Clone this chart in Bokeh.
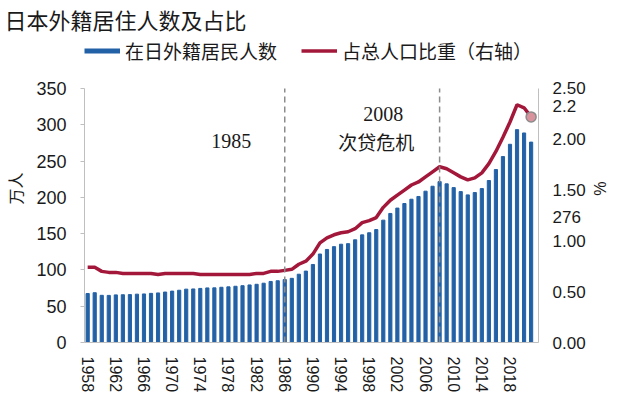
from bokeh.plotting import figure
from bokeh.models import (Range1d, LinearAxis, FixedTicker, NumeralTickFormatter,
                          Label, Legend, LegendItem)
from bokeh.embed import file_html
from bokeh.resources import INLINE

# ---------------- data ----------------
years = [1958, 1959, 1960, 1961, 1962, 1963, 1964, 1965, 1966, 1967,
         1968, 1969, 1970, 1971, 1972, 1973, 1974, 1975, 1976, 1977,
         1978, 1979, 1980, 1981, 1982, 1983, 1984, 1985, 1986, 1987,
         1988, 1989, 1990, 1991, 1992, 1993, 1994, 1995, 1996, 1997,
         1998, 1999, 2000, 2001, 2002, 2003, 2004, 2005, 2006, 2007,
         2008, 2009, 2010, 2011, 2012, 2013, 2014, 2015, 2016, 2017,
         2018, 2019, 2020, 2021]

# foreign residents in Japan (10k persons)
residents = [67.5, 68.6, 65.0, 64.9, 65.6, 65.8, 66.0, 66.6, 66.9, 67.7,
             68.3, 69.5, 70.8, 72.0, 73.5, 73.8, 74.5, 75.2, 75.3, 76.1,
             76.7, 77.5, 78.3, 79.3, 80.2, 81.7, 84.1, 85.1, 86.7, 88.4,
             94.1, 98.4, 107.5, 121.9, 128.2, 132.1, 135.4, 136.2, 141.5, 148.3,
             151.2, 155.6, 168.6, 177.8, 185.2, 191.5, 197.4, 201.2, 208.5, 215.3,
             221.7, 218.6, 213.4, 207.9, 203.4, 206.6, 212.1, 223.2, 238.3, 256.2,
             273.1, 293.3, 288.7, 276.1]

# share of total population (%)
share = [0.74, 0.74, 0.70, 0.69, 0.69, 0.68, 0.68, 0.68, 0.68, 0.68,
         0.67, 0.68, 0.68, 0.68, 0.68, 0.68, 0.67, 0.67, 0.67, 0.67,
         0.67, 0.67, 0.67, 0.67, 0.68, 0.68, 0.70, 0.70, 0.71, 0.72,
         0.77, 0.80, 0.87, 0.98, 1.03, 1.06, 1.08, 1.09, 1.12, 1.18,
         1.20, 1.23, 1.33, 1.40, 1.45, 1.50, 1.55, 1.58, 1.63, 1.68,
         1.73, 1.71, 1.67, 1.63, 1.60, 1.62, 1.67, 1.76, 1.88, 2.02,
         2.17, 2.34, 2.31, 2.22]

x_tick_years = [1958, 1962, 1966, 1970, 1974, 1978, 1982, 1986, 1990,
                1994, 1998, 2002, 2006, 2010, 2014, 2018]
left_ticks = [0, 50, 100, 150, 200, 250, 300, 350]
right_ticks = [0.0, 0.5, 1.0, 1.5, 2.0, 2.5]
event_years = [1986, 2008]

title_text = "日本外籍居住人数及占比"
bar_name = "在日外籍居民人数"
line_name = "占总人口比重（右轴）"

# ---------------- style ----------------
BLUE = "#2361a6"
RED = "#a3183a"
AXIS_GREY = "#bfbfbf"
TXT = "#1a1a1a"
CJK = "Noto Sans CJK SC"
SANS = "Liberation Sans"
SERIF = "Liberation Serif"

LEFT_MAX = left_ticks[-1]
RIGHT_MAX = right_ticks[-1]
HEADROOM = 1.2125          # extra room above the axes for the legend
left_end = LEFT_MAX * HEADROOM
right_end = RIGHT_MAX * HEADROOM

p = figure(width=610, height=395, output_backend="svg", toolbar_location=None,
           x_range=Range1d(1957.55, 2022.05), y_range=Range1d(0, left_end),
           min_border_left=83, min_border_right=60, min_border_top=31,
           min_border_bottom=52)
p.extra_y_ranges = {"pct": Range1d(0, right_end)}
p.outline_line_color = None
p.xgrid.visible = False
p.ygrid.visible = False
p.background_fill_color = "white"

# title
p.title.text = title_text
p.title.align = "left"
p.title.offset = -80
p.title.standoff = 0
p.title.text_font = CJK
p.title.text_font_size = "22px"
p.title.text_font_style = "normal"
p.title.text_color = TXT

bars = p.vbar(x=years, top=residents, width=0.45, color=BLUE)
line = p.line(years, share, y_range_name="pct", line_width=3.5, color=RED)
p.scatter([years[-1]], [share[-1]], y_range_name="pct", size=10,
          fill_color="#d9939d", line_color="#8c8c8c", line_width=1.5)
p.segment(x0=event_years, x1=event_years, y0=[0] * len(event_years),
          y1=[LEFT_MAX] * len(event_years), line_color="#8c8c8c",
          line_dash="6 4", line_width=1.5)

# legend swatch for the bars: a hidden thick line over the same data
bar_key = p.line(years, residents, line_width=5, color=BLUE, visible=False)

# left axis
ya = p.yaxis[0]
ya.ticker = FixedTicker(ticks=left_ticks)
ya.bounds = (0, LEFT_MAX)
ya.axis_line_color = AXIS_GREY
ya.major_tick_line_color = AXIS_GREY
ya.major_tick_out = 4
ya.major_tick_in = 0
ya.minor_tick_line_color = None
ya.major_label_standoff = 14
ya.major_label_text_font = SANS
ya.major_label_text_font_size = "18px"
ya.major_label_text_color = TXT
ya.axis_label = "万人"
ya.axis_label_text_font = CJK
ya.axis_label_text_font_size = "16px"
ya.axis_label_text_font_style = "normal"
ya.axis_label_text_color = TXT
ya.axis_label_standoff = 6

# right axis; the end values are written beside it
tag_share = round(share[-1] + 0.11, 2)
tag_res = round(residents[-1] / LEFT_MAX * RIGHT_MAX - 0.735, 2)
ra = LinearAxis(y_range_name="pct",
                ticker=FixedTicker(ticks=right_ticks + [tag_share, tag_res]),
                formatter=NumeralTickFormatter(format="0.00"),
                major_label_overrides={tag_share: f"{share[-1]:.1f}",
                                       tag_res: f"{residents[-1]:.0f}"})
ra.bounds = (0, RIGHT_MAX)
ra.axis_line_color = AXIS_GREY
ra.major_tick_line_color = None
ra.minor_tick_line_color = None
ra.major_label_standoff = 8
ra.major_label_text_font = SANS
ra.major_label_text_font_size = "17px"
ra.major_label_text_color = TXT
ra.axis_label = "%"
ra.axis_label_text_font = SANS
ra.axis_label_text_font_size = "16px"
ra.axis_label_text_font_style = "normal"
ra.axis_label_text_color = TXT
ra.axis_label_standoff = 2
p.add_layout(ra, "right")

# x axis
xa = p.xaxis[0]
xa.ticker = FixedTicker(ticks=x_tick_years)
xa.axis_line_color = AXIS_GREY
xa.major_tick_line_color = None
xa.minor_tick_line_color = None
xa.major_label_orientation = "vertical"
xa.major_label_standoff = 8
xa.major_label_text_font = SANS
xa.major_label_text_font_size = "16px"
xa.major_label_text_color = TXT

# legend, inside the frame's headroom
legend = Legend(items=[LegendItem(label=bar_name, renderers=[bar_key]),
                       LegendItem(label=line_name, renderers=[line])],
                location=(0, 278), orientation="horizontal",
                glyph_width=36, glyph_height=27, label_standoff=5, spacing=24,
                padding=0, margin=0, border_line_alpha=0,
                background_fill_alpha=0,
                label_text_font=CJK, label_text_font_size="19px",
                label_text_color=TXT)
p.add_layout(legend)

# annotations inside the frame
p.add_layout(Label(x=1978.4, y=277, text="1985", text_font=SERIF,
                   text_font_size="20px", text_align="center",
                   text_baseline="middle", text_color=TXT))
p.add_layout(Label(x=2000, y=315, text="2008", text_font=SERIF,
                   text_font_size="20px", text_align="center",
                   text_baseline="middle", text_color=TXT))
p.add_layout(Label(x=1999, y=277, text="次贷危机", text_font=CJK,
                   text_font_size="19px", text_align="center",
                   text_baseline="middle", text_color=TXT))

open("out.html", "w").write(file_html(p, INLINE))
